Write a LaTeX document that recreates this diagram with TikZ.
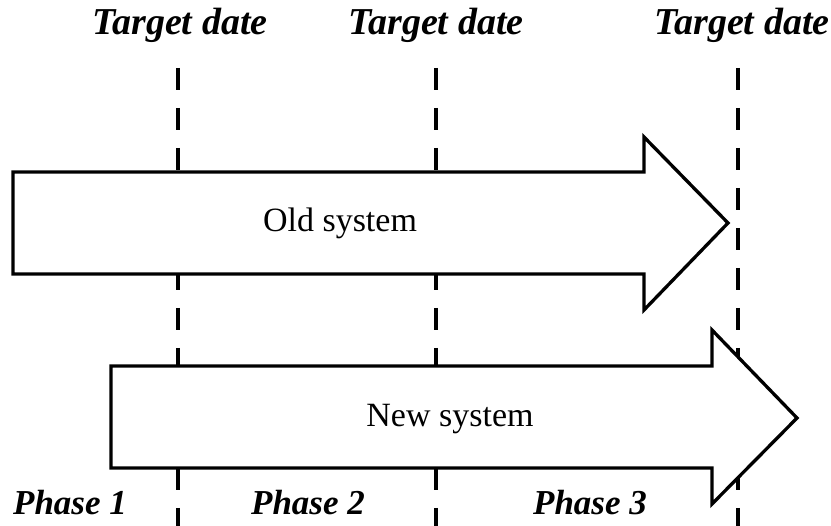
\documentclass[tikz,border=0pt]{standalone}
\usepackage{fontspec}
\setmainfont{Liberation Serif}
\usepackage{tikz}

\begin{document}
\begin{tikzpicture}[x=1pt,y=-1pt]
		\useasboundingbox (0,0) rectangle (831,526);
		\tikzset{datelabel/.style={font=\fontsize{38}{42}\selectfont\bfseries\itshape,anchor=base},
			phaselabel/.style={font=\fontsize{35}{40}\selectfont\bfseries\itshape,anchor=base},
			syslabel/.style={font=\fontsize{34}{40}\selectfont,anchor=base},
			dateline/.style={line width=3.3pt,dash pattern=on 22pt off 18pt},
			sysarrow/.style={line width=3.3pt,fill=white,miter limit=20}}
		% target date lines
		\draw[dateline] (178,68) -- (178,526);
		\draw[dateline] (436,68) -- (436,526);
		\draw[dateline] (738,68) -- (738,526);
		% target date labels
		\node[datelabel] (td1) at (180,35) {Target date};
		\node[datelabel] (td2) at (436,35) {Target date};
		\node[datelabel] (td3) at (742,35) {Target date};
		% old system arrow
		\draw[sysarrow] (13,172) -- (644,172) -- (644,137) -- (728,223) -- (644,310) -- (644,274) -- (13,274) -- cycle;
		\node[syslabel] (old) at (340,232) {Old system};
		% new system arrow
		\draw[sysarrow] (111,366) -- (712,366) -- (712,330) -- (797,418) -- (712,504) -- (712,468) -- (111,468) -- cycle;
		\node[syslabel] (new) at (450,427) {New system};
		% phase labels
		\node[phaselabel] (ph1) at (70,515)  {Phase 1};
		\node[phaselabel] (ph2) at (308,515) {Phase 2};
		\node[phaselabel] (ph3) at (590,515) {Phase 3};
	\end{tikzpicture}
\end{document}
